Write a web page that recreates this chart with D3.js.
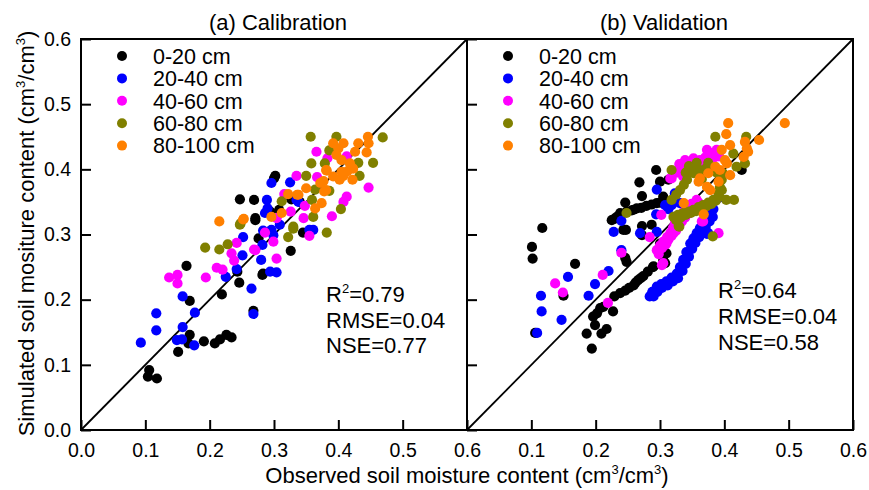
<!DOCTYPE html>
<html lang="en">
<head>
<meta charset="utf-8">
<title>Soil moisture calibration / validation</title>
<style>
body { margin: 0; background: #fff; }
* { font-family: "Liberation Sans", Arial, sans-serif; }
</style>
<script src="https://cdn.jsdelivr.net/npm/d3@7"></script>
</head>
<body>
<div id="chart"></div>
<script>
// observed / simulated pairs, one array per layer
var depths = ['0-20 cm', '20-40 cm', '40-60 cm', '60-80 cm', '80-100 cm'];
var depthColors = ['#000000', '#0000ff', '#ff00ff', '#808000', '#ff8000'];
var ticks = [0, 0.1, 0.2, 0.3, 0.4, 0.5, 0.6];

var cal0_20 = [[0.106,0.092],[0.104,0.082],[0.118,0.079],[0.151,0.120],[0.169,0.146],[0.167,0.133],[0.191,0.136],[0.208,0.133],[0.216,0.139],[0.226,0.146],[0.234,0.142],[0.169,0.198],[0.164,0.252],[0.219,0.208],[0.246,0.226],[0.243,0.243],[0.268,0.183],[0.282,0.238],[0.276,0.294],[0.271,0.322],[0.247,0.354],[0.269,0.353],[0.302,0.390],[0.300,0.386],[0.326,0.275],[0.345,0.303],[0.294,0.335],[0.340,0.350],[0.271,0.325],[0.308,0.338],[0.327,0.354],[0.283,0.240]];
var cal20_40 = [[0.093,0.134],[0.117,0.153],[0.117,0.179],[0.158,0.205],[0.177,0.180],[0.158,0.158],[0.149,0.138],[0.157,0.139],[0.176,0.130],[0.225,0.235],[0.242,0.247],[0.251,0.268],[0.252,0.296],[0.265,0.217],[0.268,0.178],[0.280,0.261],[0.282,0.284],[0.283,0.306],[0.296,0.307],[0.294,0.243],[0.304,0.242],[0.289,0.353],[0.286,0.333],[0.296,0.379],[0.325,0.380],[0.309,0.315],[0.355,0.307],[0.361,0.307],[0.335,0.353],[0.290,0.340],[0.299,0.299],[0.338,0.350]];
var cal40_60 = [[0.137,0.234],[0.150,0.238],[0.150,0.225],[0.194,0.234],[0.211,0.249],[0.220,0.246],[0.234,0.271],[0.238,0.260],[0.242,0.287],[0.269,0.277],[0.286,0.303],[0.299,0.289],[0.304,0.263],[0.355,0.298],[0.326,0.335],[0.316,0.362],[0.335,0.390],[0.367,0.388],[0.366,0.427],[0.304,0.325],[0.413,0.420],[0.447,0.372],[0.413,0.358],[0.408,0.350],[0.390,0.328],[0.271,0.276],[0.346,0.325],[0.348,0.344],[0.383,0.417]];
var cal60_80 = [[0.193,0.280],[0.215,0.277],[0.228,0.285],[0.248,0.317],[0.312,0.351],[0.322,0.296],[0.330,0.309],[0.350,0.390],[0.358,0.409],[0.382,0.303],[0.361,0.327],[0.379,0.409],[0.357,0.450],[0.397,0.450],[0.469,0.449],[0.454,0.410],[0.431,0.410],[0.433,0.390],[0.386,0.429],[0.364,0.369],[0.386,0.367],[0.359,0.353],[0.404,0.339],[0.330,0.312],[0.247,0.315]];
var cal80_100 = [[0.446,0.450],[0.431,0.440],[0.447,0.440],[0.392,0.440],[0.408,0.440],[0.400,0.432],[0.444,0.426],[0.426,0.427],[0.397,0.422],[0.405,0.414],[0.418,0.409],[0.423,0.401],[0.405,0.396],[0.381,0.399],[0.392,0.389],[0.408,0.390],[0.414,0.397],[0.422,0.384],[0.402,0.384],[0.377,0.382],[0.381,0.368],[0.372,0.379],[0.350,0.371],[0.336,0.361],[0.322,0.362],[0.374,0.348],[0.364,0.340],[0.253,0.324],[0.296,0.327],[0.312,0.333],[0.215,0.320],[0.252,0.323],[0.338,0.361],[0.378,0.366],[0.382,0.398]];

var val0_20 = [[0.117,0.310],[0.101,0.281],[0.102,0.263],[0.106,0.149],[0.168,0.255],[0.150,0.206],[0.194,0.125],[0.186,0.148],[0.209,0.148],[0.217,0.155],[0.199,0.161],[0.196,0.174],[0.202,0.179],[0.207,0.187],[0.212,0.189],[0.227,0.182],[0.229,0.205],[0.246,0.214],[0.259,0.222],[0.266,0.230],[0.274,0.236],[0.289,0.250],[0.248,0.258],[0.272,0.299],[0.247,0.307],[0.243,0.307],[0.225,0.322],[0.233,0.327],[0.248,0.335],[0.264,0.340],[0.279,0.344],[0.295,0.348],[0.308,0.350],[0.246,0.349],[0.272,0.359],[0.268,0.380],[0.294,0.399],[0.300,0.381],[0.305,0.261],[0.310,0.271],[0.287,0.315],[0.305,0.358],[0.313,0.384],[0.272,0.313],[0.427,0.399],[0.300,0.286],[0.308,0.256],[0.290,0.251],[0.246,0.264],[0.238,0.333],[0.259,0.338],[0.229,0.324],[0.240,0.331],[0.256,0.337],[0.271,0.341],[0.287,0.346],[0.300,0.349],[0.238,0.210],[0.252,0.218],[0.262,0.226],[0.270,0.233],[0.281,0.243]];
var val20_40 = [[0.109,0.149],[0.116,0.182],[0.115,0.206],[0.147,0.169],[0.157,0.235],[0.189,0.206],[0.199,0.224],[0.220,0.244],[0.240,0.321],[0.228,0.304],[0.269,0.302],[0.295,0.304],[0.295,0.369],[0.284,0.205],[0.288,0.212],[0.295,0.220],[0.302,0.224],[0.310,0.228],[0.318,0.234],[0.326,0.240],[0.331,0.250],[0.336,0.261],[0.341,0.273],[0.347,0.286],[0.352,0.294],[0.357,0.302],[0.362,0.310],[0.367,0.317],[0.373,0.325],[0.378,0.332],[0.375,0.302],[0.318,0.345],[0.313,0.339],[0.240,0.276],[0.294,0.331],[0.308,0.345],[0.323,0.363],[0.331,0.348],[0.373,0.301],[0.383,0.339],[0.391,0.356],[0.290,0.205],[0.296,0.212],[0.303,0.218],[0.312,0.222],[0.320,0.228],[0.328,0.233],[0.335,0.244],[0.340,0.255],[0.345,0.266],[0.350,0.278],[0.355,0.287],[0.361,0.296],[0.366,0.304],[0.371,0.312],[0.377,0.320],[0.382,0.327]];
var val40_60 = [[0.137,0.225],[0.149,0.211],[0.211,0.238],[0.240,0.272],[0.219,0.195],[0.284,0.296],[0.303,0.253],[0.302,0.330],[0.367,0.320],[0.391,0.302],[0.295,0.276],[0.300,0.283],[0.305,0.289],[0.311,0.296],[0.316,0.302],[0.320,0.310],[0.323,0.317],[0.327,0.322],[0.331,0.327],[0.336,0.334],[0.342,0.340],[0.349,0.347],[0.357,0.353],[0.316,0.386],[0.336,0.389],[0.373,0.430],[0.388,0.430],[0.339,0.414],[0.352,0.417],[0.362,0.414],[0.318,0.386],[0.331,0.404],[0.365,0.320],[0.305,0.256],[0.310,0.286],[0.321,0.302],[0.331,0.317],[0.344,0.332],[0.357,0.348],[0.326,0.395],[0.345,0.408],[0.330,0.408],[0.370,0.418],[0.380,0.425],[0.298,0.270],[0.303,0.279],[0.308,0.284],[0.313,0.292],[0.318,0.298],[0.325,0.306],[0.328,0.312],[0.334,0.320],[0.339,0.326],[0.346,0.334],[0.352,0.342],[0.360,0.349],[0.334,0.396],[0.342,0.400],[0.350,0.405],[0.358,0.408],[0.366,0.410],[0.375,0.413],[0.384,0.418],[0.392,0.420]];
var val60_80 = [[0.386,0.450],[0.434,0.450],[0.318,0.399],[0.357,0.410],[0.375,0.410],[0.414,0.424],[0.432,0.409],[0.419,0.404],[0.403,0.353],[0.415,0.353],[0.382,0.297],[0.329,0.313],[0.248,0.333],[0.321,0.327],[0.328,0.330],[0.336,0.333],[0.344,0.335],[0.352,0.338],[0.360,0.342],[0.367,0.345],[0.375,0.349],[0.383,0.353],[0.391,0.363],[0.393,0.373],[0.396,0.384],[0.398,0.394],[0.318,0.353],[0.325,0.361],[0.331,0.368],[0.337,0.376],[0.342,0.384],[0.352,0.394],[0.362,0.399],[0.330,0.312],[0.340,0.395],[0.365,0.385],[0.325,0.322],[0.332,0.326],[0.340,0.330],[0.348,0.333],[0.356,0.336],[0.364,0.339],[0.372,0.343],[0.380,0.347],[0.387,0.352],[0.392,0.358],[0.396,0.368],[0.345,0.405],[0.350,0.400],[0.368,0.395],[0.372,0.402],[0.380,0.400],[0.388,0.395]];
var val80_100 = [[0.406,0.471],[0.494,0.471],[0.403,0.454],[0.432,0.442],[0.435,0.432],[0.437,0.427],[0.454,0.445],[0.396,0.430],[0.409,0.437],[0.401,0.414],[0.404,0.409],[0.386,0.404],[0.393,0.399],[0.375,0.394],[0.409,0.391],[0.362,0.386],[0.360,0.381],[0.391,0.381],[0.373,0.373],[0.378,0.368],[0.430,0.419],[0.337,0.348],[0.368,0.331]];

var panels = [
    { title: '(a) Calibration', series: [cal0_20, cal20_40, cal40_60, cal60_80, cal80_100],
      stats: ['0.79', '0.04', '0.77'], statX: 326, statY: [302, 328, 353] },
    { title: '(b) Validation', series: [val0_20, val20_40, val40_60, val60_80, val80_100],
      stats: ['0.64', '0.04', '0.58'], statX: 718, statY: [298, 324, 350] }
];

var width = 869, height = 490;
var plotLeft = 81, plotTop = 39, pw = 386, ph = 391;

var svg = d3.select('#chart').append('svg')
    .attr('width', width)
    .attr('height', height);

var y = d3.scaleLinear().domain([0, 0.6]).range([plotTop + ph, plotTop]);

panels.forEach(function(p, k) {
    var x0 = plotLeft + k * pw;
    var x = d3.scaleLinear().domain([0, 0.6]).range([x0, x0 + pw]);
    var g = svg.append('g');

    // 1:1 line
    g.append('line')
        .attr('x1', x(0)).attr('y1', y(0))
        .attr('x2', x(0.6)).attr('y2', y(0.6))
        .style('stroke', '#000').style('stroke-width', 1.8);

    // points, deepest layer drawn last
    p.series.forEach(function(s, i) {
        g.append('g').selectAll('circle')
            .data(s)
            .enter()
            .append('circle')
                .attr('cx', function(d) { return x(d[0]); })
                .attr('cy', function(d) { return y(d[1]); })
                .attr('r', 5.1)
                .style('fill', depthColors[i]);
    });

    // frame
    g.append('rect')
        .attr('x', x0).attr('y', plotTop)
        .attr('width', pw).attr('height', ph)
        .style('fill', 'none').style('stroke', '#000').style('stroke-width', 2);

    // bottom axis, ticks pointing inward
    var xAxis = d3.axisBottom(x)
        .tickValues(k == 0 ? ticks : ticks.slice(1))
        .tickFormat(d3.format('.1f'))
        .tickSizeInner(-10).tickSizeOuter(0).tickPadding(13);
    var gx = g.append('g')
        .attr('transform', 'translate(0,' + (plotTop + ph) + ')')
        .call(xAxis);
    gx.select('.domain').remove();
    gx.selectAll('line').style('stroke-width', 2);
    gx.selectAll('text').style('font-size', '19.5px').style('fill', '#000')
        .style('font-family', '"Liberation Sans", Arial, sans-serif');

    // left ticks of each panel
    var yAxis = d3.axisLeft(y)
        .tickValues(ticks)
        .tickFormat(k == 0 ? d3.format('.1f') : '')
        .tickSizeInner(-10).tickSizeOuter(0).tickPadding(10);
    var gy = g.append('g')
        .attr('transform', 'translate(' + x0 + ',0)')
        .call(yAxis);
    gy.select('.domain').remove();
    gy.selectAll('line').style('stroke-width', 2);
    gy.selectAll('text').style('font-size', '19.5px').style('fill', '#000')
        .style('font-family', '"Liberation Sans", Arial, sans-serif');

    g.append('text')
        .attr('x', x0 + pw / 2 + 4)
        .attr('y', 30)
        .attr('text-anchor', 'middle')
        .style('font-size', '22px')
        .text(p.title);

    // legend
    var leg = g.selectAll('.leg')
        .data(depths)
        .enter()
        .append('g')
            .attr('transform', function(d, i) { return 'translate(' + (x0 + 41) + ',' + (56 + i * 22.4) + ')'; });
    leg.append('circle')
        .attr('r', 5)
        .style('fill', function(d, i) { return depthColors[i]; });
    leg.append('text')
        .attr('x', 31)
        .attr('dy', '0.36em')
        .style('font-size', '21.5px')
        .text(function(d) { return d; });

    // statistics
    var r2 = g.append('text')
        .attr('x', p.statX).attr('y', p.statY[0])
        .style('font-size', '22px');
    r2.append('tspan').text('R');
    r2.append('tspan').attr('dy', -9).style('font-size', '13px').text('2');
    r2.append('tspan').attr('dy', 9).text('=' + p.stats[0]);
    g.append('text')
        .attr('x', p.statX).attr('y', p.statY[1])
        .style('font-size', '22px')
        .text('RMSE=' + p.stats[1]);
    g.append('text')
        .attr('x', p.statX).attr('y', p.statY[2])
        .style('font-size', '22px')
        .text('NSE=' + p.stats[2]);
});

// axis titles
var xt = svg.append('text')
    .attr('x', plotLeft + pw)
    .attr('y', 483)
    .attr('text-anchor', 'middle')
    .style('font-size', '22px');
xt.append('tspan').text('Observed soil moisture content (cm');
xt.append('tspan').attr('dy', -9).style('font-size', '13px').text('3');
xt.append('tspan').attr('dy', 9).text('/cm');
xt.append('tspan').attr('dy', -9).style('font-size', '13px').text('3');
xt.append('tspan').attr('dy', 9).text(')');

var yt = svg.append('text')
    .attr('transform', 'translate(34,' + (plotTop + ph / 2 - 1) + ') rotate(-90)')
    .attr('text-anchor', 'middle')
    .style('font-size', '22px');
yt.append('tspan').text('Simulated soil mositure content (cm');
yt.append('tspan').attr('dy', -9).style('font-size', '13px').text('3');
yt.append('tspan').attr('dy', 9).text('/cm');
yt.append('tspan').attr('dy', -9).style('font-size', '13px').text('3');
yt.append('tspan').attr('dy', 9).text(')');
</script>
</body>
</html>
